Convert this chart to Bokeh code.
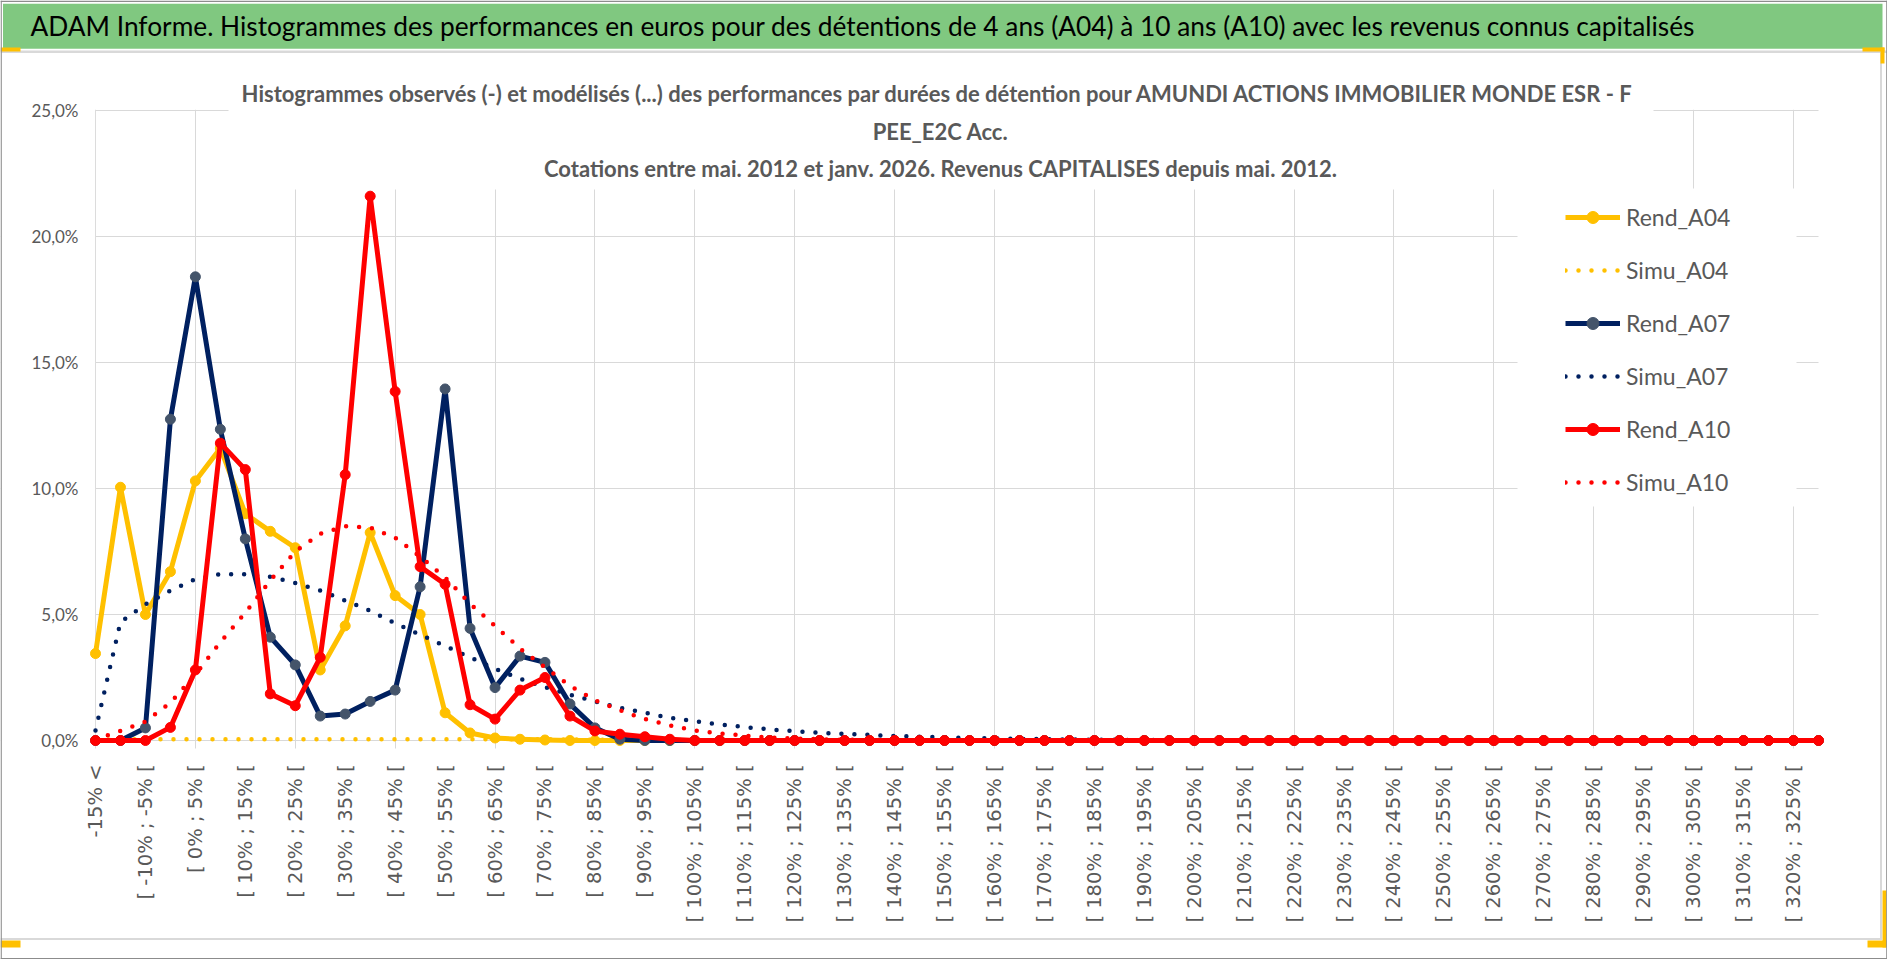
from bokeh.plotting import figure
from bokeh.models import Range1d, FixedTicker, Legend, LegendItem, Label
from bokeh.embed import file_html
from bokeh.resources import INLINE
from math import pi

HEADER = ("ADAM Informe. Histogrammes des performances en euros pour des détentions "
          "de 4 ans (A04) à 10 ans (A10) avec les revenus connus capitalisés")
TITLE_LINES = [
    "Histogrammes observés (-) et modélisés (...) des performances par durées de détention pour AMUNDI ACTIONS IMMOBILIER  MONDE ESR - F",
    "PEE_E2C Acc.",
    "Cotations entre mai. 2012 et janv. 2026. Revenus CAPITALISES depuis mai. 2012.",
]

categories = [
    "-15% <", "[ -15% ; -10% [", "[ -10% ; -5% [", "[ -5% ; 0% [", "[ 0% ; 5% [",
    "[ 5% ; 10% [", "[ 10% ; 15% [", "[ 15% ; 20% [", "[ 20% ; 25% [", "[ 25% ; 30% [",
    "[ 30% ; 35% [", "[ 35% ; 40% [", "[ 40% ; 45% [", "[ 45% ; 50% [", "[ 50% ; 55% [",
    "[ 55% ; 60% [", "[ 60% ; 65% [", "[ 65% ; 70% [", "[ 70% ; 75% [", "[ 75% ; 80% [",
    "[ 80% ; 85% [", "[ 85% ; 90% [", "[ 90% ; 95% [", "[ 95% ; 100% [", "[ 100% ; 105% [",
    "[ 105% ; 110% [", "[ 110% ; 115% [", "[ 115% ; 120% [", "[ 120% ; 125% [", "[ 125% ; 130% [",
    "[ 130% ; 135% [", "[ 135% ; 140% [", "[ 140% ; 145% [", "[ 145% ; 150% [", "[ 150% ; 155% [",
    "[ 155% ; 160% [", "[ 160% ; 165% [", "[ 165% ; 170% [", "[ 170% ; 175% [", "[ 175% ; 180% [",
    "[ 180% ; 185% [", "[ 185% ; 190% [", "[ 190% ; 195% [", "[ 195% ; 200% [", "[ 200% ; 205% [",
    "[ 205% ; 210% [", "[ 210% ; 215% [", "[ 215% ; 220% [", "[ 220% ; 225% [", "[ 225% ; 230% [",
    "[ 230% ; 235% [", "[ 235% ; 240% [", "[ 240% ; 245% [", "[ 245% ; 250% [", "[ 250% ; 255% [",
    "[ 255% ; 260% [", "[ 260% ; 265% [", "[ 265% ; 270% [", "[ 270% ; 275% [", "[ 275% ; 280% [",
    "[ 280% ; 285% [", "[ 285% ; 290% [", "[ 290% ; 295% [", "[ 295% ; 300% [", "[ 300% ; 305% [",
    "[ 305% ; 310% [", "[ 310% ; 315% [", "[ 315% ; 320% [", "[ 320% ; 325% [", "[ 325% ; 330% [",
]

y_ticks = [0, 5, 10, 15, 20, 25]
y_tick_labels = ["0,0%", "5,0%", "10,0%", "15,0%", "20,0%", "25,0%"]

# values in percent, one per category
rend_a04 = [
    3.45, 10.05, 5.0, 6.7, 10.3, 11.6, 9.0, 8.3, 7.65, 2.8,
    4.55, 8.25, 5.75, 5.0, 1.1, 0.3, 0.1, 0.05, 0.02, 0.0,
    0.0, 0.0, 0.0, 0.0, 0.0, 0.0, 0.0, 0.0, 0.0, 0.0,
    0.0, 0.0, 0.0, 0.0, 0.0, 0.0, 0.0, 0.0, 0.0, 0.0,
    0.0, 0.0, 0.0, 0.0, 0.0, 0.0, 0.0, 0.0, 0.0, 0.0,
    0.0, 0.0, 0.0, 0.0, 0.0, 0.0, 0.0, 0.0, 0.0, 0.0,
    0.0, 0.0, 0.0, 0.0, 0.0, 0.0, 0.0, 0.0, 0.0, 0.0,
]
simu_a04 = [
    0.03, 0.05, 0.05, 0.05, 0.05, 0.05, 0.05, 0.05, 0.05, 0.05,
    0.05, 0.05, 0.05, 0.05, 0.05, 0.05, 0.05, 0.05, 0.05, 0.04,
    0.03, 0.03, 0.02, 0.02, 0.01, 0.01, 0.0, 0.0, 0.0, 0.0,
    0.0, 0.0, 0.0, 0.0, 0.0, 0.0, 0.0, 0.0, 0.0, 0.0,
    0.0, 0.0, 0.0, 0.0, 0.0, 0.0, 0.0, 0.0, 0.0, 0.0,
    0.0, 0.0, 0.0, 0.0, 0.0, 0.0, 0.0, 0.0, 0.0, 0.0,
    0.0, 0.0, 0.0, 0.0, 0.0, 0.0, 0.0, 0.0, 0.0, 0.0,
]
rend_a07 = [
    0.0, 0.0, 0.5, 12.75, 18.4, 12.35, 8.0, 4.1, 3.0, 0.97,
    1.05, 1.55, 2.0, 6.1, 13.95, 4.45, 2.1, 3.35, 3.1, 1.45,
    0.5, 0.05, 0.0, 0.0, 0.0, 0.0, 0.0, 0.0, 0.0, 0.0,
    0.0, 0.0, 0.0, 0.0, 0.0, 0.0, 0.0, 0.0, 0.0, 0.0,
    0.0, 0.0, 0.0, 0.0, 0.0, 0.0, 0.0, 0.0, 0.0, 0.0,
    0.0, 0.0, 0.0, 0.0, 0.0, 0.0, 0.0, 0.0, 0.0, 0.0,
    0.0, 0.0, 0.0, 0.0, 0.0, 0.0, 0.0, 0.0, 0.0, 0.0,
]
simu_a07 = [
    0.4, 4.7, 5.4, 5.95, 6.4, 6.6, 6.6, 6.5, 6.25, 5.95,
    5.55, 5.15, 4.65, 4.2, 3.75, 3.3, 2.85, 2.45, 2.12, 1.82,
    1.55, 1.3, 1.1, 0.9, 0.76, 0.64, 0.53, 0.44, 0.37, 0.31,
    0.26, 0.22, 0.18, 0.15, 0.12, 0.1, 0.08, 0.065, 0.05, 0.04,
    0.03, 0.025, 0.02, 0.015, 0.01, 0.008, 0.006, 0.004, 0.003, 0.002,
    0.0, 0.0, 0.0, 0.0, 0.0, 0.0, 0.0, 0.0, 0.0, 0.0,
    0.0, 0.0, 0.0, 0.0, 0.0, 0.0, 0.0, 0.0, 0.0, 0.0,
]
rend_a10 = [
    0.0, 0.0, 0.0, 0.52, 2.8, 11.8, 10.75, 1.85, 1.38, 3.3,
    10.55, 21.6, 13.85, 6.9, 6.2, 1.42, 0.85, 2.0, 2.5, 0.97,
    0.38, 0.25, 0.15, 0.05, 0.0, 0.0, 0.0, 0.0, 0.0, 0.0,
    0.0, 0.0, 0.0, 0.0, 0.0, 0.0, 0.0, 0.0, 0.0, 0.0,
    0.0, 0.0, 0.0, 0.0, 0.0, 0.0, 0.0, 0.0, 0.0, 0.0,
    0.0, 0.0, 0.0, 0.0, 0.0, 0.0, 0.0, 0.0, 0.0, 0.0,
    0.0, 0.0, 0.0, 0.0, 0.0, 0.0, 0.0, 0.0, 0.0, 0.0,
]
simu_a10 = [
    0.05, 0.38, 0.75, 1.5, 2.62, 3.9, 5.07, 6.35, 7.5, 8.2,
    8.5, 8.45, 8.05, 7.3, 6.47, 5.43, 4.55, 3.65, 2.9, 2.17,
    1.6, 1.2, 0.85, 0.6, 0.4, 0.28, 0.19, 0.12, 0.08, 0.05,
    0.03, 0.02, 0.01, 0.0, 0.0, 0.0, 0.0, 0.0, 0.0, 0.0,
    0.0, 0.0, 0.0, 0.0, 0.0, 0.0, 0.0, 0.0, 0.0, 0.0,
    0.0, 0.0, 0.0, 0.0, 0.0, 0.0, 0.0, 0.0, 0.0, 0.0,
    0.0, 0.0, 0.0, 0.0, 0.0, 0.0, 0.0, 0.0, 0.0, 0.0,
]

YELLOW = "#FFC000"
NAVY = "#002060"
NAVY_MARK = "#44546A"
RED = "#FF0000"
GRID = "#D9D9D9"
TXT = "#595959"
GREEN = "#80C880"
BORDER = "#8C8C8C"
FONT = "Lato"

W, H = 1887, 959
N = len(categories)
# page layout (pixels): plot area from x=95 (first category) to x=1818 (last), 0% at y=740, 25% at y=110
PX0, PX1, PY0, PY25 = 95.0, 1818.0, 740.0, 110.0
PXU = (PX1 - PX0) / (N - 1)
PYU = (PY0 - PY25) / 25.0


def X(px):
    return (px - PX0) / PXU


def Y(py):
    return (PY0 - py) / PYU


xs = list(range(N))

p = figure(width=W, height=H, x_range=Range1d(X(0), X(W)), y_range=Range1d(Y(H), Y(0)),
           output_backend="svg", toolbar_location=None,
           min_border_left=0, min_border_right=0, min_border_top=0, min_border_bottom=0,
           outline_line_color=None, background_fill_color="white", border_fill_color="white")


def box(x0, x1, y0, y1, color):
    # decorative page elements, given in page pixels
    p.quad(left=[X(x0)], right=[X(x1)], top=[Y(y0)], bottom=[Y(y1)], fill_color=color, line_color=None)


# white areas hiding the grid outside the plot area, under the title and under the legend
box(0, PX0 - 0.4, 0, H, "white")
box(PX1, W, 0, H, "white")
box(0, W, PY0 + 8, H, "white")
box(0, W, 0, PY25 - 0.8, "white")
box(228, 1653, 0, 189, "white")
box(1517, 1796, 188, 506, "white")

# page decorations
box(2.5, 1882, 3.3, 48.3, GREEN)
box(0, W, 50, 52.5, GRID)
box(1879.5, 1881.5, 52, 939, GRID)
box(0, 1881.5, 937.5, 939.5, GRID)
box(0, 20, 47, 51, YELLOW)
box(1862, 1884, 47, 51, YELLOW)
box(1880, 1884, 47, 63, YELLOW)
box(0, 20, 940, 947, YELLOW)
box(1867, 1886, 940, 947, YELLOW)
box(1882, 1886, 890, 947, YELLOW)
box(0, W, 0, 1.5, BORDER)
box(0, W, H - 1.5, H, BORDER)
box(0, 1.3, 0, H, BORDER)
box(W - 1.3, W, 0, H, BORDER)

series = [
    ("Rend_A04", rend_a04, YELLOW, YELLOW, False),
    ("Simu_A04", simu_a04, YELLOW, None, True),
    ("Rend_A07", rend_a07, NAVY, NAVY_MARK, False),
    ("Simu_A07", simu_a07, NAVY, None, True),
    ("Rend_A10", rend_a10, RED, RED, False),
    ("Simu_A10", simu_a10, RED, None, True),
]
items = []
for name, vals, col, mcol, dotted in series:
    if dotted:
        r = p.line(xs, vals, line_color=col, line_width=4.5, line_dash="0 13", line_cap="round")
        items.append(LegendItem(label=name, renderers=[r]))
    else:
        r = p.line(xs, vals, line_color=col, line_width=5, line_join="round")
        m = p.scatter(xs, vals, marker="circle", size=10, fill_color=mcol, line_color=mcol)
        items.append(LegendItem(label=name, renderers=[r, m]))

legend = Legend(items=items, location=(1565, H - 497), orientation="vertical",
                glyph_width=55, glyph_height=30, label_height=30, label_standoff=6,
                spacing=23, padding=10,
                background_fill_alpha=0, border_line_color=None,
                label_text_font=FONT, label_text_font_size="23px", label_text_color=TXT)
p.add_layout(legend)

# axes (labels placed inside the canvas, the frame covers the whole page)
p.xaxis.ticker = FixedTicker(ticks=list(range(0, N, 2)))
p.xaxis.major_label_overrides = {i: categories[i] for i in range(0, N, 2)}
p.xaxis.major_label_orientation = pi / 2
p.xaxis.major_label_text_font = "DejaVu Sans"
p.xaxis.major_label_text_font_size = "19.5px"
p.xaxis.major_label_text_color = TXT
p.xaxis.major_label_standoff = -(H - 764)
p.xaxis.major_tick_line_color = None
p.xaxis.major_tick_out = 0
p.xaxis.major_tick_in = 0
p.xaxis.minor_tick_line_color = None
p.xaxis.axis_line_color = None

p.yaxis.ticker = FixedTicker(ticks=y_ticks)
p.yaxis.major_label_overrides = dict(zip(y_ticks, y_tick_labels))
p.yaxis.major_label_text_font = FONT
p.yaxis.major_label_text_font_size = "17px"
p.yaxis.major_label_text_color = TXT
p.yaxis.major_label_standoff = -78
p.yaxis.major_tick_line_color = None
p.yaxis.major_tick_out = 0
p.yaxis.major_tick_in = 0
p.yaxis.minor_tick_line_color = None
p.yaxis.axis_line_color = None

p.xgrid.ticker = FixedTicker(ticks=list(range(0, N, 4)))
p.xgrid.grid_line_color = GRID
p.ygrid.grid_line_color = GRID

# header text (y = vertical middle of the text)
HFS = 26.3
p.add_layout(Label(x=X(30), y=Y(25.3), text=HEADER, text_align="left", text_baseline="middle",
                   text_font=FONT, text_font_size=f"{HFS}px", text_color="black"))

# chart title (three centred lines), baselines at 100, 138.3 and 175.5 px
TFS = 22
for txt, yb in zip(TITLE_LINES, [100, 138.3, 175.5]):
    p.add_layout(Label(x=X(940), y=Y(yb - 0.33 * TFS), text=txt, text_align="center", text_baseline="middle",
                       text_font=FONT, text_font_size=f"{TFS}px", text_font_style="bold",
                       text_color=TXT))

open("out.html", "w").write(file_html(p, INLINE))
